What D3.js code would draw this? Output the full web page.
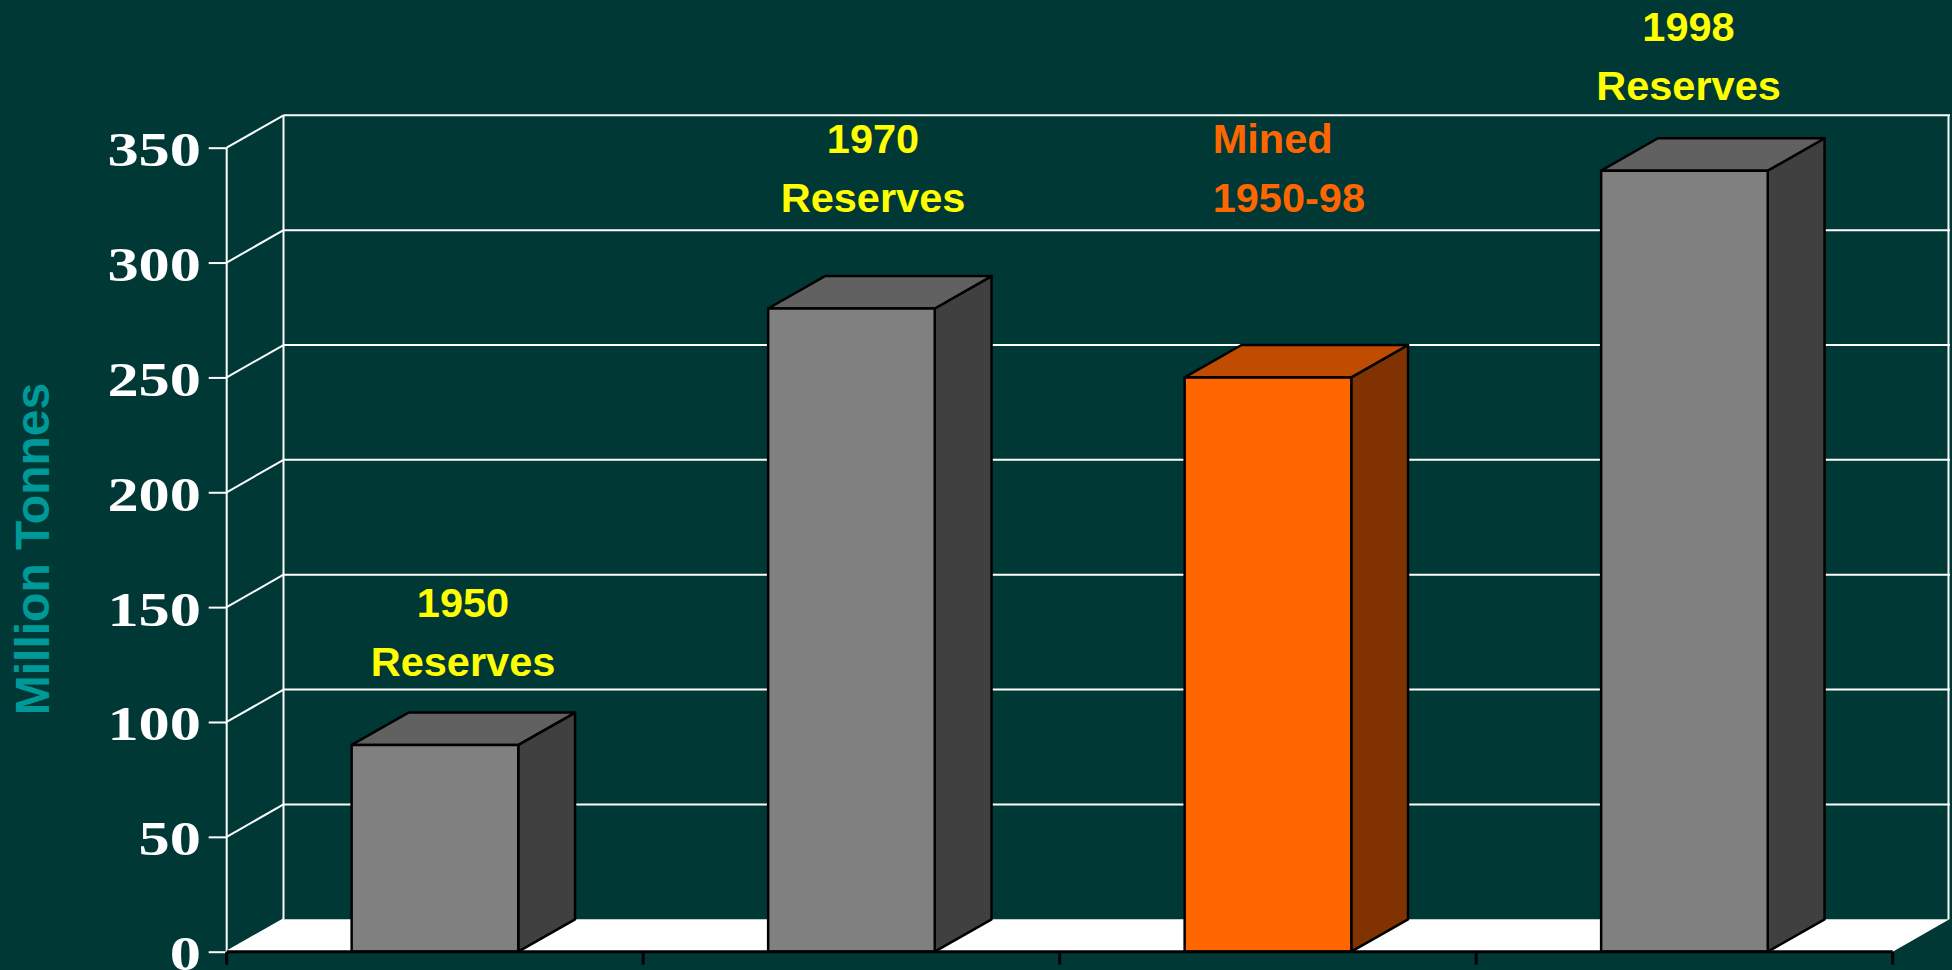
<!DOCTYPE html>
<html>
<head>
<meta charset="utf-8">
<script src="https://cdn.jsdelivr.net/npm/d3@7"></script>
<style>
  html, body { margin: 0; padding: 0; background: #003835; overflow: hidden; }
  svg { display: block; }
</style>
</head>
<body>
<svg id="chart" width="1952" height="970"></svg>
<script>
// ---- data ----
const categories = ["1950 Reserves", "1970 Reserves", "Mined 1950-98", "1998 Reserves"];
const values = [90, 280, 250, 340];
const seriesKind = ["reserve", "reserve", "mined", "reserve"];
const yTicks = [0, 50, 100, 150, 200, 250, 300, 350];
const labelLines = [["1950", "Reserves"], ["1970", "Reserves"], ["Mined", "1950-98"], ["1998", "Reserves"]];
const axisTitle = "Million Tonnes";

// ---- layout / style (not data) ----
const W = 1952, H = 970;
const frontLeft = 226.7, frontRight = 1892.7;
const yBottom = 951.7, yTop = 147.7;
const depthX = 56.8, depthY = -32.4;
const bg = "#003835";
const faceColors = {
  reserve: { front: "#808080", top: "#616161", side: "#404040" },
  mined:   { front: "#ff6600", top: "#bf4c00", side: "#803300" }
};
const labelColor = { reserve: "#ffff00", mined: "#ff6600" };
// label text boxes: [x, baseline of first line, anchor]
const labelPos = [
  { x: 463, y: 617.3, anchor: "middle" },
  { x: 873, y: 153.3, anchor: "middle" },
  { x: 1212.7, y: 153.3, anchor: "start" },
  { x: 1688.5, y: 41, anchor: "middle" }
];
const lineGap = 58.6;

const svg = d3.select("#chart");
svg.append("rect").attr("width", W).attr("height", H).attr("fill", bg);

const y = d3.scaleLinear().domain([0, 350]).range([yBottom, yTop]);
const xCat = d3.scaleBand().domain(categories).range([frontLeft, frontRight]).padding(0);
const x = d3.scaleBand().domain(categories).range([frontLeft, frontRight])
  .paddingInner(0.6).paddingOuter(0.3);

const g = svg.append("g");

// floor
g.append("polygon")
  .attr("points", [
    [frontLeft, yBottom], [frontLeft + depthX, yBottom + depthY],
    [frontRight + depthX, yBottom + depthY], [frontRight, yBottom]
  ].map(p => p.join(",")).join(" "))
  .attr("fill", "#ffffff");

// back wall gridlines
const grid = g.append("g").attr("stroke", "#ffffff").attr("stroke-width", 2).attr("fill", "none");
yTicks.filter(t => t > 0).forEach(t => {
  grid.append("line")
    .attr("x1", frontLeft + depthX).attr("x2", frontRight + depthX + 0.5)
    .attr("y1", y(t) + depthY).attr("y2", y(t) + depthY);
});
yTicks.forEach(t => {
  grid.append("line")
    .attr("x1", frontLeft).attr("y1", y(t))
    .attr("x2", frontLeft + depthX).attr("y2", y(t) + depthY);
});
// back wall verticals
grid.append("line")
  .attr("x1", frontLeft + depthX).attr("x2", frontLeft + depthX)
  .attr("y1", y(350) + depthY).attr("y2", y(0) + depthY);
grid.append("line")
  .attr("x1", frontRight + depthX - 1).attr("x2", frontRight + depthX - 1)
  .attr("y1", y(350) + depthY).attr("y2", y(0) + depthY);

// y axis (front)
const yAxis = d3.axisLeft(y).tickValues(yTicks).tickSize(18).tickPadding(8).tickFormat(d3.format("d"));
const ya = g.append("g").attr("transform", `translate(${frontLeft},0)`).call(yAxis);
ya.select(".domain").attr("stroke", "#ffffff").attr("stroke-width", 2)
  .attr("d", `M0,${yTop}V${yBottom}`);
ya.selectAll(".tick line").attr("stroke", "#ffffff").attr("stroke-width", 2);
ya.selectAll(".tick text")
  .attr("fill", "#ffffff")
  .attr("font-family", "'Liberation Serif', 'Times New Roman', serif")
  .attr("font-weight", "bold")
  .attr("font-size", 48)
  .attr("x", -25.7)
  .attr("dy", 18)
  .attr("textLength", d => String(d).length * 31.2)
  .attr("lengthAdjust", "spacingAndGlyphs");

// bars
const bars = g.append("g").attr("stroke", "#000000").attr("stroke-width", 2.5).attr("stroke-linejoin", "round");
categories.forEach((c, i) => {
  const x0 = x(c), x1 = x(c) + x.bandwidth();
  const yt = y(values[i]), yb = y(0);
  const col = faceColors[seriesKind[i]];
  // side
  bars.append("polygon")
    .attr("points", [[x1, yb], [x1 + depthX, yb + depthY], [x1 + depthX, yt + depthY], [x1, yt]].map(p => p.join(",")).join(" "))
    .attr("fill", col.side);
  // top
  bars.append("polygon")
    .attr("points", [[x0, yt], [x0 + depthX, yt + depthY], [x1 + depthX, yt + depthY], [x1, yt]].map(p => p.join(",")).join(" "))
    .attr("fill", col.top);
  // front
  bars.append("rect")
    .attr("x", x0).attr("y", yt).attr("width", x1 - x0).attr("height", yb - yt)
    .attr("fill", col.front);
});

// bottom axis (front baseline, black)
const xAxisG = g.append("g").attr("stroke", "#000000").attr("stroke-width", 3);
xAxisG.append("line").attr("x1", frontLeft).attr("x2", frontRight).attr("y1", yBottom).attr("y2", yBottom);
const boundaries = categories.map(c => xCat(c)).concat([xCat(categories[categories.length - 1]) + xCat.bandwidth()]);
boundaries.forEach(bx => {
  xAxisG.append("line").attr("x1", bx).attr("x2", bx).attr("y1", yBottom).attr("y2", yBottom + 13);
});

// labels
categories.forEach((c, i) => {
  const p = labelPos[i];
  const t = svg.append("text")
    .attr("font-family", "'Liberation Sans', Arial, Helvetica, sans-serif")
    .attr("font-weight", "bold")
    .attr("font-size", 41.5)
    .attr("fill", labelColor[seriesKind[i]])
    .attr("text-anchor", p.anchor);
  labelLines[i].forEach((ln, k) => {
    t.append("tspan").attr("x", p.x).attr("y", p.y + k * lineGap).text(ln);
  });
});

// y axis title
svg.append("text")
  .attr("transform", "translate(49.3,549) rotate(-90)")
  .attr("text-anchor", "middle")
  .attr("font-family", "'Liberation Sans', Arial, Helvetica, sans-serif")
  .attr("font-weight", "bold")
  .attr("font-size", 48)
  .attr("fill", "#009999")
  .text(axisTitle);
</script>
</body>
</html>
